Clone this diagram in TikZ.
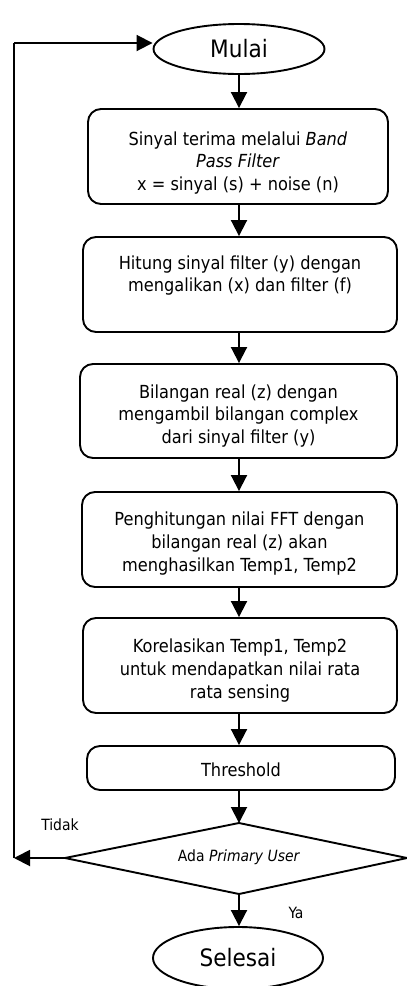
\documentclass[tikz,border=0pt]{standalone}
\usepackage{fontspec}
\setmainfont{DejaVu Sans Condensed}
\usetikzlibrary{arrows.meta,shapes.geometric}
\begin{document}
\begin{tikzpicture}[x=1pt,y=-1pt,
  line width=1.9pt,
  box/.style={draw, rounded corners=13pt, inner sep=0pt},
  txt/.style={align=center, inner sep=0pt, font=\fontsize{18}{22.7}\selectfont},
  term/.style={draw, ellipse, inner sep=0pt, font=\fontsize{24}{28}\selectfont},
  arr/.style={-{Triangle[length=16pt,width=16pt]}},
  lbl/.style={font=\fontsize{15.5}{18}\selectfont, inner sep=0pt}]
\useasboundingbox (0,0) rectangle (407,986);
\clip (0,0) rectangle (407,986);

\node[term, minimum width=171pt, minimum height=50pt] (mulai) at (239,49) {Mulai};

\node[box, minimum width=300pt, minimum height=95pt] (b1) at (238,156.5) {};
\node[txt] (t1) at (238,163) {Sinyal terima melalui \textit{Band}\\ \textit{Pass Filter}\\ x = sinyal (s) + noise (n)};

\node[box, minimum width=314pt, minimum height=95pt] (b2) at (240,284.5) {};
\node[txt] (t2) at (240,275.5) {Hitung sinyal filter (y) dengan\\ mengalikan (x) dan filter (f)};

\node[box, minimum width=317pt, minimum height=94pt] (b3) at (238.5,411) {};
\node[txt] (t3) at (238.5,416) {Bilangan real (z) dengan\\ mengambil bilangan complex\\ dari sinyal filter (y)};

\node[box, minimum width=315pt, minimum height=95pt] (b4) at (239.5,539.5) {};
\node[txt] (t4) at (239.5,543.5) {Penghitungan nilai FFT dengan\\ bilangan real (z) akan\\ menghasilkan Temp1, Temp2};

\node[box, minimum width=314pt, minimum height=95pt] (b5) at (240,665.5) {};
\node[txt] (t5) at (240,670.5) {Korelasikan Temp1, Temp2\\ untuk mendapatkan nilai rata\\ rata sensing};

\node[box, minimum width=308pt, minimum height=44pt] (th) at (241,768) {};
\node[txt] (t6) at (241,770) {Threshold};

\coordinate (dl) at (65,858);
\coordinate (dt) at (239,823);
\coordinate (dr) at (407,858);
\coordinate (db) at (239,894);
\draw (dl) -- (dt) -- (dr) -- (db) -- cycle;
\node[lbl] (q) at (239,857) {Ada \textit{Primary User}};

\node[term, minimum width=170pt, minimum height=62pt] (selesai) at (238,958) {Selesai};

\draw[arr] (mulai.south) -- (mulai.south |- b1.north);
\draw[arr] (b1.south -| mulai) -- (b2.north -| mulai);
\draw[arr] (b2.south -| mulai) -- (b3.north -| mulai);
\draw[arr] (b3.south -| mulai) -- (b4.north -| mulai);
\draw[arr] (b4.south -| mulai) -- (b5.north -| mulai);
\draw[arr] (b5.south -| mulai) -- (th.north -| mulai);
\draw[arr] (th.south -| mulai) -- (dt);
\draw[arr] (db) -- (db |- selesai.north);

\coordinate (fb1) at (14,858);
\coordinate (fb2) at (14,43);
\draw[arr] (dl) -- (fb1);
\draw (fb1) -- (fb2);
\draw[arr] (fb2) -- (mulai.west |- fb2);

\node[lbl] (tidak) at (60,825) {Tidak};
\node[lbl] (ya) at (296,913) {Ya};
\end{tikzpicture}
\end{document}
